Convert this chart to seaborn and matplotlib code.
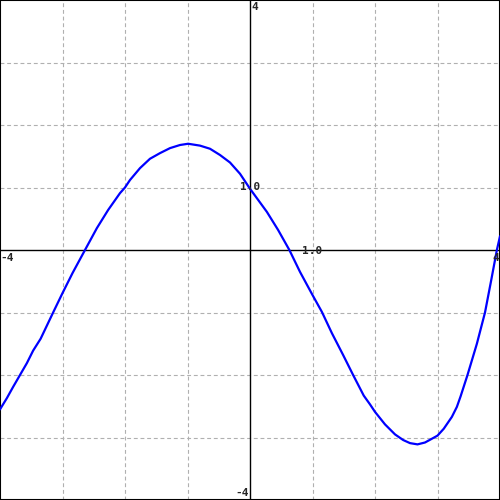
import numpy as np
import pandas as pd
import matplotlib
matplotlib.use('Agg')
import matplotlib.pyplot as plt
import seaborn as sns

# points
x_vals = [-4.0, -3.89, -3.79, -3.68, -3.57, -3.47, -3.35, -3.15, -3.0, -2.84,
          -2.64, -2.45, -2.27, -2.08, -2.0, -1.92, -1.76, -1.6, -1.44, -1.28,
          -1.12, -0.99, -0.8, -0.64, -0.48, -0.32, -0.16, 0.0, 0.27, 0.45,
          0.63, 0.8, 1.0, 1.15, 1.31, 1.49, 1.65, 1.82, 1.92, 2.0,
          2.16, 2.32, 2.45, 2.56, 2.68, 2.8, 2.91, 3.0, 3.1, 3.23,
          3.31, 3.37, 3.48, 3.63, 3.76, 3.86, 3.95, 4.0]
y_vals = [-2.55, -2.37, -2.19, -2.0, -1.81, -1.61, -1.42, -1.0, -0.69, -0.37,
          0.0, 0.35, 0.64, 0.91, 1.0, 1.12, 1.31, 1.46, 1.55, 1.63,
          1.68, 1.70, 1.67, 1.62, 1.52, 1.40, 1.22, 0.98, 0.61, 0.32,
          0.0, -0.35, -0.72, -0.99, -1.33, -1.68, -2.0, -2.33, -2.47, -2.59,
          -2.79, -2.95, -3.04, -3.09, -3.11, -3.08, -3.02, -2.97, -2.86, -2.67,
          -2.51, -2.34, -2.0, -1.5, -1.0, -0.48, 0.0, 0.22]

grid_ticks = [-3, -2, -1, 1, 2, 3]

df = pd.DataFrame({'x': x_vals, 'y': y_vals})

sns.set_style('white')
fig = plt.figure(figsize=(5, 5), dpi=100)
ax = fig.add_axes([0, 0, 1, 1])

for t in grid_ticks:
    ax.axvline(t, color='#b0b0b0', lw=0.8, ls=(0, (3.5, 2.5)), zorder=1)
    ax.axhline(t, color='#b0b0b0', lw=0.8, ls=(0, (3.5, 2.5)), zorder=1)
ax.axhline(0, color='black', lw=1.0, zorder=2)
ax.axvline(0, color='black', lw=1.0, zorder=2)

sns.lineplot(data=df, x='x', y='y', sort=False, color='#0000ff', lw=1.6, ax=ax, zorder=3)
ax.lines[-1].set_solid_joinstyle('round')

ax.set_xlim(-4, 4)
ax.set_ylim(-4, 4)
ax.set_xticks([])
ax.set_yticks([])
ax.set_xlabel('')
ax.set_ylabel('')
for s in ax.spines.values():
    s.set_color('black')
    s.set_linewidth(1.5)

fs = dict(family='DejaVu Sans Mono', fontweight='bold', fontsize=8, zorder=4)
ax.text(-4, -0.05, '-4', ha='left', va='top', **fs)
ax.text(3.99, -0.05, '4', ha='right', va='top', **fs)
ax.text(0.02, 3.96, '4', ha='left', va='top', **fs)
ax.text(-0.02, -3.96, '-4', ha='right', va='bottom', **fs)
ax.text(1.0, -0.02, '1.0', ha='center', va='center', **fs)
ax.text(0.0, 1.0, '1.0', ha='center', va='center', **fs)

plt.savefig('out.png', dpi=100)
